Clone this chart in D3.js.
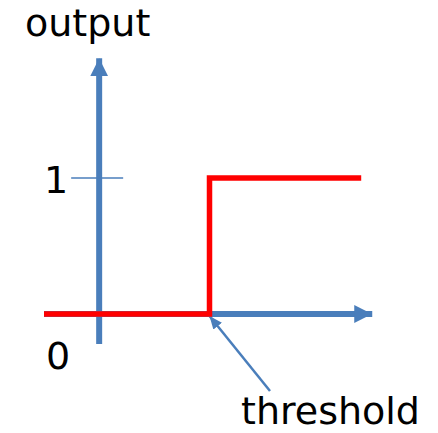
<!DOCTYPE html>
<html>
<head>
<meta charset="utf-8">
<script src="https://cdn.jsdelivr.net/npm/d3@7"></script>
<style>
  html, body { margin: 0; padding: 0; background: #fff; }
  svg { display: block; }
  text { font-family: "DejaVu Sans", sans-serif; fill: #000; }
</style>
</head>
<body>
<svg id="chart" width="438" height="433"></svg>
<script>
// ---- data ----
const stepX = [-1, 2, 2, 4.75];      // input values of the step curve
const stepY = [0, 0, 1, 1];          // output values of the step curve
const xAxisExtent = [-1, 4.95];
const yAxisExtent = [-0.22, 1.88];
const yTicks = [1];
const yTickLabels = ["1"];
const zeroLabel = "0";
const yTitle = "output";
const threshold = 2;
const thresholdLabel = "threshold";

// ---- layout ----
const blue = "#4A7EBB";
const red = "#FF0000";
const svg = d3.select("#chart");

const x = d3.scaleLinear().domain([-1, 5]).range([44, 375]);
const y = d3.scaleLinear().domain([0, 1]).range([314, 178]);

const defs = svg.append("defs");
function marker(id, len, wid) {
  defs.append("marker")
    .attr("id", id)
    .attr("viewBox", `0 0 ${len} ${wid}`)
    .attr("refX", len).attr("refY", wid / 2)
    .attr("markerWidth", len).attr("markerHeight", wid)
    .attr("markerUnits", "userSpaceOnUse")
    .attr("orient", "auto")
    .append("path")
    .attr("d", `M0,0L${len},${wid / 2}L0,${wid}Z`)
    .attr("fill", blue);
}
marker("axisHead", 18, 18);
marker("smallHead", 13, 11);

// axes
svg.append("line")
  .attr("x1", x(xAxisExtent[0])).attr("x2", x(xAxisExtent[1]))
  .attr("y1", y(0)).attr("y2", y(0))
  .attr("stroke", blue).attr("stroke-width", 6)
  .attr("marker-end", "url(#axisHead)");
svg.append("line")
  .attr("x1", x(0)).attr("x2", x(0))
  .attr("y1", y(yAxisExtent[0])).attr("y2", y(yAxisExtent[1]))
  .attr("stroke", blue).attr("stroke-width", 6)
  .attr("marker-end", "url(#axisHead)");

// y ticks
svg.selectAll(".ytick").data(yTicks).join("line")
  .attr("class", "ytick")
  .attr("x1", x(0) - 28).attr("x2", x(0) + 24)
  .attr("y1", d => y(d)).attr("y2", d => y(d))
  .attr("stroke", blue).attr("stroke-width", 1.5);

svg.selectAll(".ylab").data(yTicks).join("text")
  .attr("class", "ylab")
  .attr("x", 44).attr("y", d => y(d) + 15)
  .attr("font-size", 38)
  .text((d, i) => yTickLabels[i]);

svg.append("text")
  .attr("x", 46).attr("y", 369)
  .attr("font-size", 38)
  .text(zeroLabel);

svg.append("text")
  .attr("x", 25).attr("y", 36)
  .attr("font-size", 38)
  .text(yTitle);

// threshold pointer
svg.append("line")
  .attr("x1", 270).attr("y1", 391)
  .attr("x2", x(threshold)).attr("y2", y(0) + 2)
  .attr("stroke", blue).attr("stroke-width", 2.5)
  .attr("marker-end", "url(#smallHead)");

svg.append("text")
  .attr("x", 241).attr("y", 423.5)
  .attr("font-size", 38)
  .text(thresholdLabel);

// step curve
const line = d3.line().x(d => x(d[0])).y(d => y(d[1]));
svg.append("path")
  .datum(stepX.map((v, i) => [v, stepY[i]]))
  .attr("d", line)
  .attr("fill", "none")
  .attr("stroke", red).attr("stroke-width", 5.5)
  .attr("stroke-linejoin", "miter");
</script>
</body>
</html>
